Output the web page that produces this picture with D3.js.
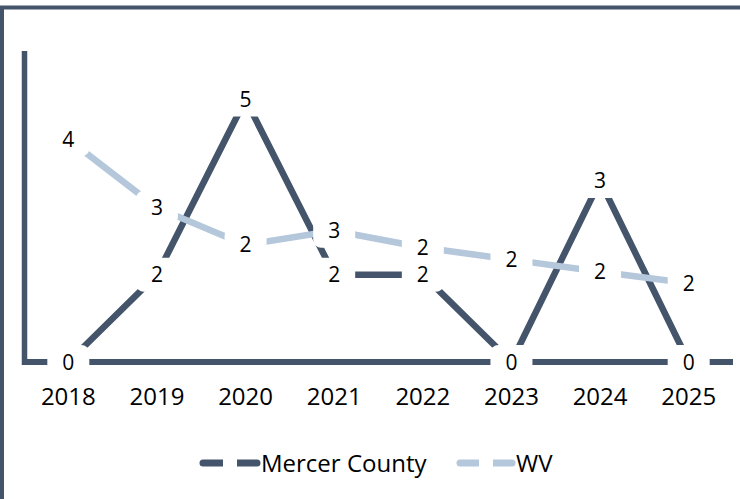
<!DOCTYPE html>
<html>
<head>
<meta charset="utf-8">
<script src="https://cdn.jsdelivr.net/npm/d3@7"></script>
<style>
  html, body { margin: 0; padding: 0; background: #fff; }
  svg { display: block; }
  text { font-family: "Open Sans", "Liberation Sans", Arial, sans-serif; fill: #000; }
</style>
</head>
<body>
<svg id="chart" width="740" height="499"></svg>
<script>
// ---- data ----
const years = ["2018", "2019", "2020", "2021", "2022", "2023", "2024", "2025"];
const mercerValues = [0, 1.66, 5, 1.66, 1.66, 0, 3.45, 0];
const wvValues = [4.24, 2.94, 2.23, 2.5, 2.18, 1.95, 1.72, 1.5];
const seriesNames = ["Mercer County", "WV"];
const seriesColors = ["#44546A", "#B4C7DB"];

const svg = d3.select("#chart");
const W = 740, H = 499;

// frame (left + top edges)
svg.append("path")
  .attr("d", `M2,${H} V7.5 H${W}`)
  .attr("fill", "none")
  .attr("stroke", "#44546A")
  .attr("stroke-width", 4);

const x = d3.scaleBand().domain(years).range([24, 733]);
const y = d3.scaleLinear().domain([0, 6]).range([362, 47]);
const cx = d => x(d) + x.bandwidth() / 2;

// axes lines
svg.append("line")
  .attr("x1", 24.5).attr("x2", 24.5)
  .attr("y1", y(6) + 4).attr("y2", y(0) + 3)
  .attr("stroke", "#44546A").attr("stroke-width", 5.5);
svg.append("line")
  .attr("x1", 22).attr("x2", 733)
  .attr("y1", y(0)).attr("y2", y(0))
  .attr("stroke", "#44546A").attr("stroke-width", 6);

// x tick labels
const xAxis = d3.axisBottom(x).tickSize(0).tickPadding(0);
const gx = svg.append("g").attr("transform", `translate(0,${y(0)})`).call(xAxis);
gx.select(".domain").remove();
gx.selectAll("text")
  .attr("y", 0).attr("dy", 0)
  .attr("transform", "translate(0,43)")
  .style("font-size", "24px")
  .style("font-family", "'Open Sans', 'Liberation Sans', Arial, sans-serif")
  .attr("fill", "#000");

const line = d3.line().x((d, i) => cx(years[i])).y(d => y(d));

const series = [
  { name: seriesNames[0], values: mercerValues, color: seriesColors[0] },
  { name: seriesNames[1], values: wvValues, color: seriesColors[1] }
];

series.forEach(s => {
  svg.append("path")
    .datum(s.values)
    .attr("d", line)
    .attr("fill", "none")
    .attr("stroke", s.color)
    .attr("stroke-width", 6.5)
    .attr("stroke-linejoin", "round");
});

// data labels with white boxes
series.forEach(s => {
  const g = svg.append("g");
  s.values.forEach((v, i) => {
    const px = cx(years[i]), py = y(v);
    g.append("rect")
      .attr("x", px - 21).attr("y", py - 17)
      .attr("width", 42).attr("height", 34)
      .attr("rx", 8)
      .attr("fill", "#fff");
    g.append("text")
      .attr("x", px).attr("y", py)
      .attr("dy", "0.36em")
      .attr("text-anchor", "middle")
      .style("font-size", "21px")
      .text(d3.format(".0f")(Math.round(v)));
  });
});

// legend
const legendItems = [
  { name: seriesNames[0], color: seriesColors[0], x0: 203, x1: 257, gap: [223, 237], tx: 261 },
  { name: seriesNames[1], color: seriesColors[1], x0: 460, x1: 512, gap: [479, 493], tx: 516 }
];
const ly = 463;
legendItems.forEach(it => {
  svg.append("line")
    .attr("x1", it.x0).attr("x2", it.x1)
    .attr("y1", ly).attr("y2", ly)
    .attr("stroke", it.color).attr("stroke-width", 7)
    .attr("stroke-linecap", "round");
  svg.append("rect")
    .attr("x", it.gap[0]).attr("y", ly - 6)
    .attr("width", it.gap[1] - it.gap[0]).attr("height", 12)
    .attr("fill", "#fff");
  svg.append("text")
    .attr("x", it.tx).attr("y", ly)
    .attr("dy", "0.36em")
    .style("font-size", "24px")
    .text(it.name);
});
</script>
</body>
</html>
